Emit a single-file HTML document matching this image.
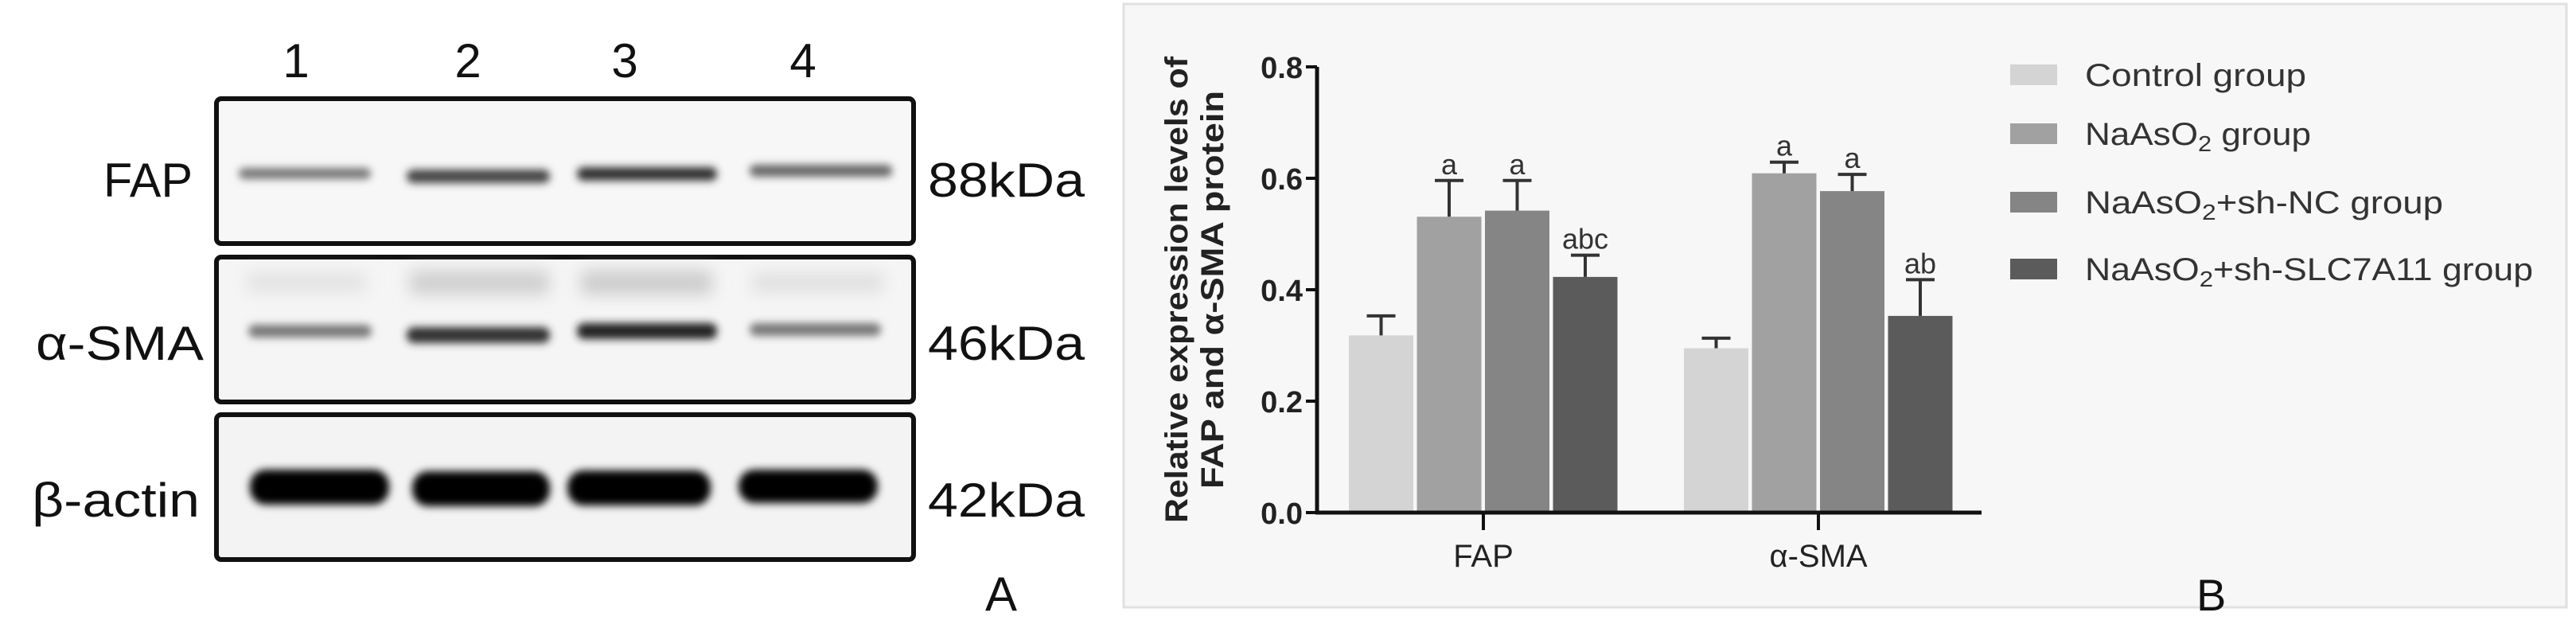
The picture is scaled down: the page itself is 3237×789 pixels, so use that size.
<!DOCTYPE html>
<html><head><meta charset="utf-8"><style>
html,body{margin:0;padding:0;background:#fff;}
svg{display:block;font-family:"Liberation Sans",sans-serif;}
</style></head><body>
<svg id="fig" width="3237" height="789" viewBox="0 0 3237 789" xmlns="http://www.w3.org/2000/svg">
<defs>
<filter id="blur" x="-20%" y="-100%" width="140%" height="300%"><feGaussianBlur stdDeviation="5"/></filter>
<filter id="blur2" x="-20%" y="-100%" width="140%" height="300%"><feGaussianBlur stdDeviation="10"/></filter>
</defs>
<g>
  <g font-size="60" fill="#111">
    <text x="372" y="97" text-anchor="middle">1</text>
    <text x="588" y="97" text-anchor="middle">2</text>
    <text x="785" y="97" text-anchor="middle">3</text>
    <text x="1009" y="97" text-anchor="middle">4</text>
  </g>
  <rect x="272" y="124" width="876" height="182" rx="6" fill="#f7f7f7" stroke="#111" stroke-width="6"/>
  <rect x="272" y="323" width="876" height="182" rx="6" fill="#f5f5f5" stroke="#111" stroke-width="6"/>
  <rect x="272" y="521" width="876" height="182" rx="6" fill="#f3f3f3" stroke="#111" stroke-width="6"/>
  <g filter="url(#blur)">
    <rect x="300" y="211" width="166" height="14" rx="7" fill="#777"/>
    <rect x="511" y="213" width="180" height="17" rx="8" fill="#444"/>
    <rect x="725" y="210" width="176" height="17" rx="8" fill="#333"/>
    <rect x="942" y="207" width="179" height="15" rx="7" fill="#666"/>
  </g>
  <g filter="url(#blur2)">
    <rect x="310" y="343" width="150" height="24" fill="#e2e2e2"/>
    <rect x="515" y="340" width="175" height="30" fill="#cfcfcf"/>
    <rect x="730" y="340" width="165" height="30" fill="#cccccc"/>
    <rect x="945" y="343" width="165" height="24" fill="#dfdfdf"/>
  </g>
  <g filter="url(#blur)">
    <rect x="312" y="408" width="155" height="16" rx="8" fill="#777"/>
    <rect x="511" y="411" width="180" height="20" rx="9" fill="#333"/>
    <rect x="725" y="406" width="176" height="20" rx="9" fill="#222"/>
    <rect x="942" y="406" width="165" height="16" rx="8" fill="#777"/>
  </g>
  <g filter="url(#blur)">
    <rect x="314" y="590" width="175" height="44" rx="20" fill="#050505"/>
    <rect x="518" y="592" width="173" height="44" rx="20" fill="#050505"/>
    <rect x="713" y="591" width="180" height="44" rx="20" fill="#050505"/>
    <rect x="928" y="590" width="175" height="42" rx="20" fill="#050505"/>
  </g>
  <g font-size="60" fill="#111">
    <text x="130" y="247" textLength="112" lengthAdjust="spacingAndGlyphs">FAP</text>
    <text x="45" y="452" textLength="211" lengthAdjust="spacingAndGlyphs">α-SMA</text>
    <text x="40" y="649" textLength="211" lengthAdjust="spacingAndGlyphs">β-actin</text>
    <text x="1166" y="247" textLength="197" lengthAdjust="spacingAndGlyphs">88kDa</text>
    <text x="1166" y="452" textLength="197" lengthAdjust="spacingAndGlyphs">46kDa</text>
    <text x="1166" y="649" textLength="197" lengthAdjust="spacingAndGlyphs">42kDa</text>
    <text x="1238" y="767">A</text>
  </g>
</g>
<g>
  <rect x="1412" y="5" width="1813" height="758" fill="#f7f7f7" stroke="#e0e0e0" stroke-width="3"/>
  <g id="plot"></g>
  <g font-weight="bold" font-size="40" fill="#222">
    <text transform="translate(1492,364) rotate(-90)" text-anchor="middle" textLength="586" lengthAdjust="spacingAndGlyphs">Relative expression levels of</text>
    <text transform="translate(1537,364) rotate(-90)" text-anchor="middle" textLength="500" lengthAdjust="spacingAndGlyphs">FAP and α-SMA protein</text>
  </g>
  <g id="legend" font-size="40" fill="#333"></g>
  <text x="2760" y="767" font-size="56" fill="#111">B</text>
</g>
<script>
const categories = ["FAP", "α-SMA"];
const groups = ["Control group", "NaAsO2 group", "NaAsO2+sh-NC group", "NaAsO2+sh-SLC7A11 group"];
const control = [0.318, 0.295];
const naaso2 = [0.531, 0.609];
const shNC = [0.542, 0.577];
const shSLC = [0.423, 0.353];
const controlErr = [0.035, 0.018];
const naaso2Err = [0.065, 0.020];
const shNCErr = [0.054, 0.030];
const shSLCErr = [0.039, 0.065];
const sigLabels = [["", "a", "a", "abc"], ["", "a", "a", "ab"]];
const yTicks = [0.0, 0.2, 0.4, 0.6, 0.8];

const NS = "http://www.w3.org/2000/svg";
const colors = ["#d4d4d4", "#a1a1a1", "#858585", "#5b5b5b"];
const x0 = 1655, xEnd = 2490, yBase = 644, yTop = 84, yMax = 0.8;
const y = v => yBase - (v / yMax) * (yBase - yTop);
const catCenter = [1864, 2285];
const barW = 81, step = 85.5;
const barX = (ci, gi) => catCenter[ci] + (gi - 2) * step + 2;
const series = [control, naaso2, shNC, shSLC];
const errs = [controlErr, naaso2Err, shNCErr, shSLCErr];
const plot = document.getElementById("plot");
function mk(tag, attrs, parent) {
  const e = document.createElementNS(NS, tag);
  for (const k in attrs) e.setAttribute(k, attrs[k]);
  (parent || plot).appendChild(e);
  return e;
}
categories.forEach((c, ci) => {
  series.forEach((s, gi) => {
    const bx = barX(ci, gi);
    const r = mk("rect", {x: bx, y: y(s[ci]), width: barW, height: yBase - y(s[ci]), fill: colors[gi]});
    
    
    const cx = bx + barW / 2, top = y(s[ci] + errs[gi][ci]);
    const eb = mk("path", {d: `M${cx},${y(s[ci])}V${top}M${cx-18},${top}H${cx+18}`, stroke: "#333", "stroke-width": 4, fill: "none"});
    
    
    if (sigLabels[ci][gi]) {
      const t = mk("text", {x: cx, y: top - 8, "text-anchor": "middle", "font-size": 36, fill: "#333"});
      t.textContent = sigLabels[ci][gi];
      
      
    }
  });
  const tk = mk("line", {x1: catCenter[ci], x2: catCenter[ci], y1: yBase, y2: yBase + 22, stroke: "#111", "stroke-width": 4});
  
  
  const lt = mk("text", {x: catCenter[ci], y: 712, "text-anchor": "middle", "font-size": 40, fill: "#222"});
  lt.textContent = c;
  
  
});
const ya = mk("line", {x1: x0, x2: x0, y1: yTop, y2: yBase + 2, stroke: "#111", "stroke-width": 5});


const xa = mk("line", {x1: x0 - 2, x2: xEnd, y1: yBase, y2: yBase, stroke: "#111", "stroke-width": 5});


yTicks.forEach(v => {
  const l = mk("line", {x1: x0 - 14, x2: x0, y1: y(v), y2: y(v), stroke: "#111", "stroke-width": 4});
  
  
  const t = mk("text", {x: x0 - 18, y: y(v) + 14, "text-anchor": "end", "font-size": 38, "font-weight": "bold", fill: "#222"});
  t.textContent = v.toFixed(1);
  
  
});
const leg = document.getElementById("legend");
const legY = [94, 168, 254, 338];
const legW = [278, 284, 450, 563];
groups.forEach((g, gi) => {
  const sw = mk("rect", {x: 2526, y: legY[gi] - 13, width: 59, height: 26, fill: colors[gi]}, leg);
  
  
  const t = mk("text", {x: 2620, y: legY[gi] + 14, textLength: legW[gi], lengthAdjust: "spacingAndGlyphs"}, leg);
  
  
  const m = g.match(/^(NaAsO)2(.*)$/);
  if (m) {
    t.appendChild(document.createTextNode(m[1]));
    const s = mk("tspan", {"font-size": 28, dy: 8}, t); s.textContent = "2";
    const r = mk("tspan", {dy: -8}, t); r.textContent = m[2];
  } else t.textContent = g;
});
</script>
</svg>
</body></html>
